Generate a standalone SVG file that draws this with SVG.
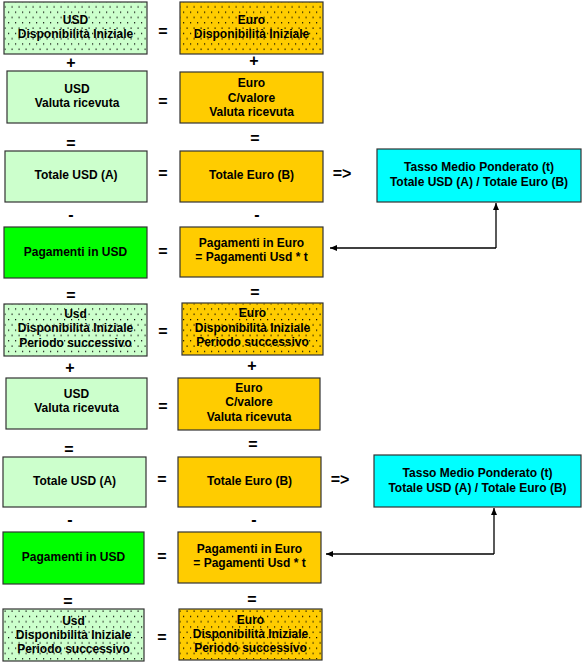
<svg xmlns="http://www.w3.org/2000/svg" width="585" height="663" viewBox="0 0 585 663">
<style>
  .box { stroke: #333333; stroke-width: 1.2; }
  .lg { fill: #CCFFCC; }
  .or { fill: #FFCC00; }
  .gr { fill: #00FF00; }
  .cy { fill: #00FFFF; }
  text { font-family: "Liberation Sans", Arial, sans-serif; font-weight: bold; fill: #000; text-anchor: middle; }
  .t { font-size: 12px; }
  .op { font-size: 16px; }
  .conn { fill: none; stroke: #000; stroke-width: 1.3; }
</style>
<defs>
  <pattern id="dots" width="7" height="10.6" patternUnits="userSpaceOnUse">
    <rect x="1" y="1" width="1.2" height="1.2" fill="#000"/>
    <rect x="4.5" y="6.3" width="1.2" height="1.2" fill="#000"/>
  </pattern>
  <marker id="arr" markerWidth="7" markerHeight="6" refX="7" refY="3" orient="auto" markerUnits="userSpaceOnUse">
    <path d="M0,0 L7,3 L0,6 Z" fill="#000"/>
  </marker>
</defs>
<rect width="585" height="663" fill="#FFFFFF"/>

<g id="usd-disp-1">
  <rect class="box lg" x="4" y="2" width="143" height="52"/>
  <rect x="4.6" y="2.6" width="141.8" height="50.8" fill="url(#dots)"/>
  <text class="t" x="75.5" y="24">USD</text>
  <text class="t" x="75.5" y="38">Disponibilità Iniziale</text>
</g>
<g id="euro-disp-1">
  <rect class="box or" x="180" y="2" width="143" height="52"/>
  <rect x="180.6" y="2.6" width="141.8" height="50.8" fill="url(#dots)"/>
  <text class="t" x="251.5" y="24">Euro</text>
  <text class="t" x="251.5" y="38">Disponibilità Iniziale</text>
</g>
<g id="usd-valuta-1">
  <rect class="box lg" x="7" y="71" width="140" height="52"/>
  <text class="t" x="77" y="93">USD</text>
  <text class="t" x="77" y="107">Valuta ricevuta</text>
</g>
<g id="euro-valuta-1">
  <rect class="box or" x="180" y="72" width="143" height="51"/>
  <text class="t" x="251.5" y="87">Euro</text>
  <text class="t" x="251.5" y="101.5">C/valore</text>
  <text class="t" x="251.5" y="116">Valuta ricevuta</text>
</g>
<g id="totale-usd-1">
  <rect class="box lg" x="5" y="151" width="142" height="51"/>
  <text class="t" x="76" y="179">Totale USD (A)</text>
</g>
<g id="totale-euro-1">
  <rect class="box or" x="180" y="151" width="143" height="51"/>
  <text class="t" x="251.5" y="179">Totale Euro (B)</text>
</g>
<g id="tasso-1">
  <rect class="box cy" x="377" y="149" width="204" height="53"/>
  <text class="t" x="479" y="171">Tasso Medio Ponderato (t)</text>
  <text class="t" x="479" y="186">Totale USD (A) / Totale Euro (B)</text>
</g>
<g id="pag-usd-1">
  <rect class="box gr" x="4" y="227" width="143" height="51"/>
  <text class="t" x="75.5" y="256">Pagamenti in USD</text>
</g>
<g id="pag-euro-1">
  <rect class="box or" x="180" y="227" width="143" height="50"/>
  <text class="t" x="251.5" y="247">Pagamenti in Euro</text>
  <text class="t" x="251.5" y="261">= Pagamenti Usd * t</text>
</g>
<g id="usd-disp-2">
  <rect class="box lg" x="4" y="304" width="143" height="52"/>
  <rect x="4.6" y="304.6" width="141.8" height="50.8" fill="url(#dots)"/>
  <text class="t" x="75.5" y="318">Usd</text>
  <text class="t" x="75.5" y="332">Disponibilità Iniziale</text>
  <text class="t" x="75.5" y="347">Periodo successivo</text>
</g>
<g id="euro-disp-2">
  <rect class="box or" x="182" y="303" width="141" height="52"/>
  <rect x="182.6" y="303.6" width="139.8" height="50.8" fill="url(#dots)"/>
  <text class="t" x="252.5" y="317">Euro</text>
  <text class="t" x="252.5" y="332">Disponibilità Iniziale</text>
  <text class="t" x="252.5" y="346">Periodo successivo</text>
</g>
<g id="usd-valuta-2">
  <rect class="box lg" x="6" y="378" width="141" height="51"/>
  <text class="t" x="76.5" y="398">USD</text>
  <text class="t" x="76.5" y="412">Valuta ricevuta</text>
</g>
<g id="euro-valuta-2">
  <rect class="box or" x="178" y="378" width="142" height="52"/>
  <text class="t" x="249" y="392">Euro</text>
  <text class="t" x="249" y="406">C/valore</text>
  <text class="t" x="249" y="421">Valuta ricevuta</text>
</g>
<g id="totale-usd-2">
  <rect class="box lg" x="3" y="457" width="143" height="50"/>
  <text class="t" x="74.5" y="485">Totale USD (A)</text>
</g>
<g id="totale-euro-2">
  <rect class="box or" x="178" y="457" width="143" height="50"/>
  <text class="t" x="249.5" y="485">Totale Euro (B)</text>
</g>
<g id="tasso-2">
  <rect class="box cy" x="374" y="455" width="207" height="52"/>
  <text class="t" x="477.5" y="477">Tasso Medio Ponderato (t)</text>
  <text class="t" x="477.5" y="492">Totale USD (A) / Totale Euro (B)</text>
</g>
<g id="pag-usd-2">
  <rect class="box gr" x="3" y="532" width="141" height="52"/>
  <text class="t" x="73.5" y="561">Pagamenti in USD</text>
</g>
<g id="pag-euro-2">
  <rect class="box or" x="178" y="532" width="143" height="51"/>
  <text class="t" x="249.5" y="553">Pagamenti in Euro</text>
  <text class="t" x="249.5" y="567">= Pagamenti Usd * t</text>
</g>
<g id="usd-disp-3">
  <rect class="box lg" x="3" y="609" width="141" height="52"/>
  <rect x="3.6" y="609.6" width="139.8" height="50.8" fill="url(#dots)"/>
  <text class="t" x="73.5" y="625">Usd</text>
  <text class="t" x="73.5" y="639">Disponibilità Iniziale</text>
  <text class="t" x="73.5" y="653">Periodo successivo</text>
</g>
<g id="euro-disp-3">
  <rect class="box or" x="179" y="609" width="143" height="51"/>
  <rect x="179.6" y="609.6" width="141.8" height="49.8" fill="url(#dots)"/>
  <text class="t" x="250.5" y="624">Euro</text>
  <text class="t" x="250.5" y="638">Disponibilità Iniziale</text>
  <text class="t" x="250.5" y="652">Periodo successivo</text>
</g>

<g id="operators">
  <text class="op" x="163" y="37">=</text>
  <text class="op" x="163" y="107">=</text>
  <text class="op" x="163" y="179">=</text>
  <text class="op" x="163" y="257">=</text>
  <text class="op" x="163" y="337">=</text>
  <text class="op" x="163" y="412">=</text>
  <text class="op" x="162" y="485">=</text>
  <text class="op" x="162" y="562">=</text>
  <text class="op" x="162" y="643">=</text>
  <text class="op" x="71" y="68">+</text>
  <text class="op" x="254" y="66">+</text>
  <text class="op" x="71" y="149">=</text>
  <text class="op" x="255" y="144">=</text>
  <text class="op" x="71" y="220">-</text>
  <text class="op" x="257" y="220">-</text>
  <text class="op" x="71" y="301">=</text>
  <text class="op" x="255" y="298">=</text>
  <text class="op" x="70" y="373">+</text>
  <text class="op" x="252" y="371">+</text>
  <text class="op" x="69" y="455">=</text>
  <text class="op" x="253" y="450">=</text>
  <text class="op" x="70" y="525">-</text>
  <text class="op" x="254" y="525">-</text>
  <text class="op" x="68" y="607">=</text>
  <text class="op" x="252" y="605">=</text>
  <text class="op" x="342" y="179">=&gt;</text>
  <text class="op" x="340" y="485">=&gt;</text>
</g>

<g id="connectors">
  <path class="conn" d="M496,248 H330" marker-end="url(#arr)"/>
  <path class="conn" d="M496,248 V203" marker-end="url(#arr)"/>
  <path class="conn" d="M494,554 H326" marker-end="url(#arr)"/>
  <path class="conn" d="M494,554 V508" marker-end="url(#arr)"/>
</g>
</svg>
